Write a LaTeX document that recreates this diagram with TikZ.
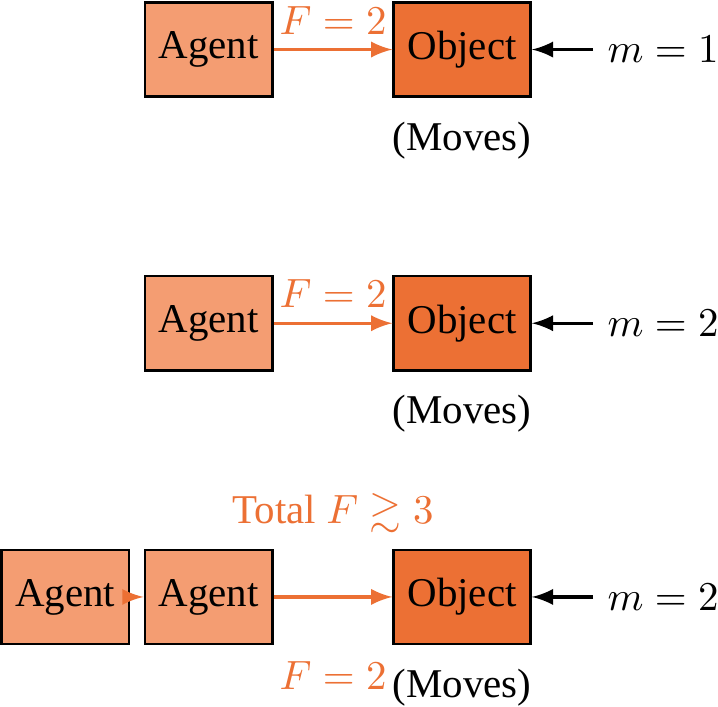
\documentclass[tikz,border=0pt]{standalone}
\usepackage[no-math]{fontspec}
\setmainfont{Liberation Serif}
\usepackage{amssymb}
\usetikzlibrary{arrows, positioning}
\definecolor{agentfill}{RGB}{244,157,114}
\definecolor{objfill}{RGB}{236,112,52}
\definecolor{force}{RGB}{236,112,52}
\tikzstyle{agent} = [rectangle, minimum height=23pt, inner xsep=3.4pt, text centered, draw=black, semithick, fill=agentfill]
\tikzstyle{object} = [agent, fill=objfill]
\tikzstyle{push} = [thick,->,>=latex,draw=force]
\tikzstyle{pull} = [thick,->,>=latex]
\tikzstyle{flabel} = [text=force]

\begin{document}
\begin{tikzpicture}[node distance=29pt]
		\useasboundingbox (0,0) rectangle (175.5pt,-172.6pt);
		% one agent, m = 1
		\node (ag1) [agent] at (51pt,-12.1pt) {Agent};
		\node (obj1) [object, right=of ag1] {Object};
		\node (m1) [right=15pt of obj1] {$m = 1$};
		\node (mv1) [below=2.3pt of obj1] {(Moves)};
		% one agent, m = 2
		\node (ag2) [agent, below=43.3pt of ag1] {Agent};
		\node (obj2) [object, right=of ag2] {Object};
		\node (m2) [right=15pt of obj2] {$m = 2$};
		\node (mv2) [below=2.3pt of obj2] {(Moves)};
		% two agents, m = 2
		\node (ag3) [agent, below=43.3pt of ag2] {Agent};
		\node (ag0) [agent, left=3.2pt of ag3] {Agent};
		\node (obj3) [object, right=of ag3] {Object};
		\node (m3) [right=15pt of obj3] {$m = 2$};
		\node (mv3) [below=2.3pt of obj3] {(Moves)};

		\draw [push] (ag1) -- node (f1) [flabel, above] {$F = 2$} (obj1);
		\draw [pull] (m1) -- (obj1);
		\draw [push] (ag2) -- node (f2) [flabel, above] {$F = 2$} (obj2);
		\draw [pull] (m2) -- (obj2);
		\draw [push] (ag0) -- (ag3);
		\draw [push] (ag3) -- node (tot) [flabel, above=12pt] {Total $F \gtrsim 3$} node (f3) [flabel, below=12pt] {$F = 2$} (obj3);
		\draw [pull] (m3) -- (obj3);
	  \end{tikzpicture}
\end{document}
